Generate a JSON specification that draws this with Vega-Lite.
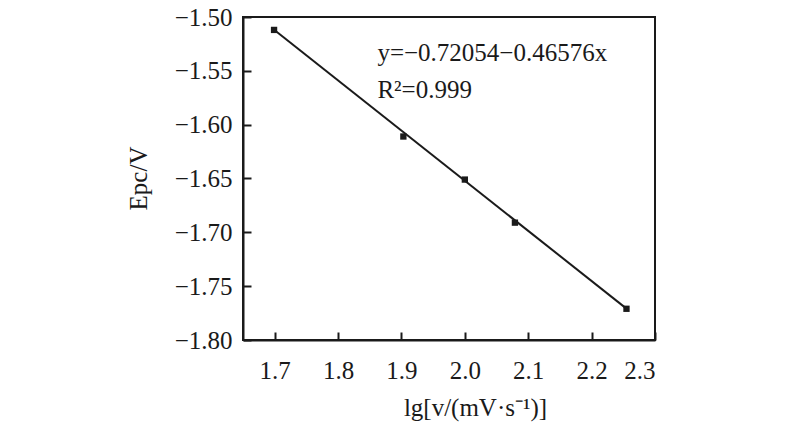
{
  "$schema": "https://vega.github.io/schema/vega-lite/v6.json",
  "width": 412,
  "height": 323,
  "autosize": {"type": "none"},
  "padding": {"left": 243, "top": 17, "right": 145, "bottom": 94},
  "background": "white",
  "config": {
    "view": {"stroke": "#1a1a1a", "strokeWidth": 2},
    "font": "Liberation Serif",
    "axis": {
      "grid": false,
      "domainColor": "#1a1a1a",
      "domainWidth": 2,
      "tickColor": "#1a1a1a",
      "tickWidth": 2,
      "tickSize": -8,
      "labelFont": "Liberation Serif",
      "labelFontSize": 25,
      "labelColor": "#1a1a1a",
      "titleFont": "Liberation Serif",
      "titleFontSize": 25,
      "titleFontWeight": "normal",
      "titleColor": "#1a1a1a"
    }
  },
  "datasets": {
    "pts": [
      {"lgv": 1.699, "E": -1.512},
      {"lgv": 1.903, "E": -1.611},
      {"lgv": 2.0, "E": -1.651},
      {"lgv": 2.079, "E": -1.691},
      {"lgv": 2.255, "E": -1.771}
    ],
    "fit": [
      {"lgv": 1.699, "E": -1.51187},
      {"lgv": 2.255, "E": -1.77083}
    ],
    "notes": [
      {"lgv": 1.862, "E": -1.5413, "label": "y=−0.72054−0.46576x"},
      {"lgv": 1.862, "E": -1.5753, "label": "R²=0.999"}
    ]
  },
  "layer": [
    {
      "data": {"name": "fit"},
      "mark": {"type": "line", "color": "#1a1a1a", "strokeWidth": 2},
      "encoding": {
        "x": {
          "field": "lgv", "type": "quantitative",
          "scale": {"domain": [1.65, 2.3], "nice": false, "zero": false},
          "axis": {
            "values": [1.7, 1.8, 1.9, 2.0, 2.1, 2.2, 2.3],
            "format": ".1f",
            "labelBaseline": "alphabetic",
            "labelPadding": 46,
            "title": "lg[v/(mV·s⁻¹)]",
            "titleX": 232,
            "titleY": 75,
            "titleBaseline": "alphabetic"
          }
        },
        "y": {
          "field": "E", "type": "quantitative",
          "scale": {"domain": [-1.8, -1.5], "nice": false, "zero": false},
          "axis": {
            "values": [-1.8, -1.75, -1.7, -1.65, -1.6, -1.55, -1.5],
            "format": ".2f",
            "labelPadding": 19,
            "labelBaseline": "middle",
            "title": "Epc/V",
            "titleX": -105,
            "titleY": 161,
            "titleAngle": -90,
            "titleBaseline": "middle",
            "titleAlign": "center"
          }
        }
      }
    },
    {
      "data": {"name": "pts"},
      "mark": {"type": "point", "shape": "square", "filled": true, "color": "#1a1a1a", "opacity": 1, "size": 40},
      "encoding": {
        "x": {"field": "lgv", "type": "quantitative"},
        "y": {"field": "E", "type": "quantitative"}
      }
    },
    {
      "data": {"name": "notes"},
      "mark": {"type": "text", "align": "left", "baseline": "alphabetic", "font": "Liberation Serif", "fontSize": 25, "color": "#1a1a1a"},
      "encoding": {
        "x": {"field": "lgv", "type": "quantitative"},
        "y": {"field": "E", "type": "quantitative"},
        "text": {"field": "label", "type": "nominal"}
      }
    }
  ]
}
